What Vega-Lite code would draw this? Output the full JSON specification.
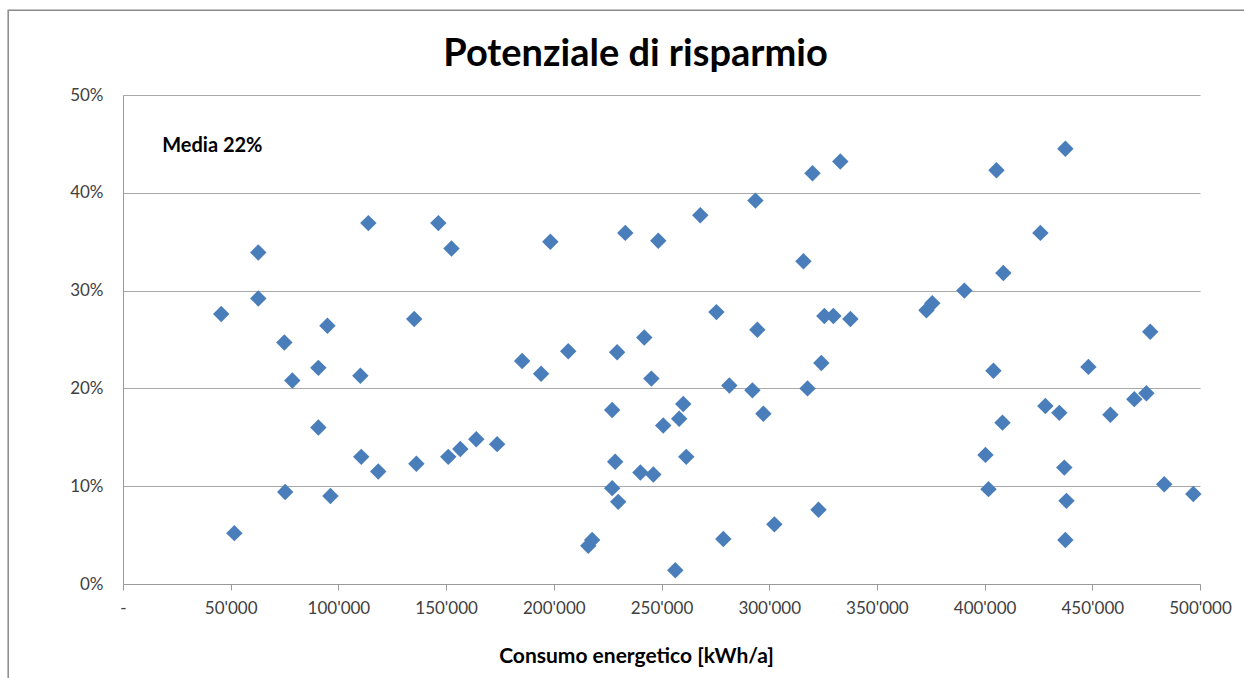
{
  "$schema": "https://vega.github.io/schema/vega-lite/v6.json",
  "width": 1077,
  "height": 489,
  "autosize": "none",
  "padding": {"left": 123, "top": 95, "right": 44, "bottom": 94},
  "background": "white",
  "title": {
    "text": "Potenziale di risparmio",
    "font": "Lato",
    "fontSize": 38,
    "fontWeight": "bold",
    "color": "black",
    "anchor": "middle",
    "offset": -64,
    "dx": -26
  },
  "config": {
    "view": {"stroke": null},
    "axis": {"labelFont": "Lato", "labelFontSize": 17, "labelColor": "#404040", "titleFont": "Lato"}
  },
  "data": {
    "values": [
      {"consumo": 45600, "risparmio": 0.276},
      {"consumo": 51700, "risparmio": 0.052},
      {"consumo": 62800, "risparmio": 0.339},
      {"consumo": 62800, "risparmio": 0.292},
      {"consumo": 74900, "risparmio": 0.247},
      {"consumo": 78600, "risparmio": 0.208},
      {"consumo": 75300, "risparmio": 0.094},
      {"consumo": 90700, "risparmio": 0.221},
      {"consumo": 90700, "risparmio": 0.160},
      {"consumo": 94900, "risparmio": 0.264},
      {"consumo": 96300, "risparmio": 0.090},
      {"consumo": 110200, "risparmio": 0.213},
      {"consumo": 110600, "risparmio": 0.130},
      {"consumo": 113900, "risparmio": 0.369},
      {"consumo": 118500, "risparmio": 0.115},
      {"consumo": 135200, "risparmio": 0.271},
      {"consumo": 136200, "risparmio": 0.123},
      {"consumo": 146400, "risparmio": 0.369},
      {"consumo": 151000, "risparmio": 0.130},
      {"consumo": 152500, "risparmio": 0.343},
      {"consumo": 156600, "risparmio": 0.138},
      {"consumo": 164000, "risparmio": 0.148},
      {"consumo": 173700, "risparmio": 0.143},
      {"consumo": 185300, "risparmio": 0.228},
      {"consumo": 194100, "risparmio": 0.215},
      {"consumo": 198400, "risparmio": 0.350},
      {"consumo": 206700, "risparmio": 0.238},
      {"consumo": 216000, "risparmio": 0.039},
      {"consumo": 217800, "risparmio": 0.045},
      {"consumo": 227100, "risparmio": 0.178},
      {"consumo": 227100, "risparmio": 0.098},
      {"consumo": 228500, "risparmio": 0.125},
      {"consumo": 229400, "risparmio": 0.237},
      {"consumo": 229900, "risparmio": 0.084},
      {"consumo": 233200, "risparmio": 0.359},
      {"consumo": 240200, "risparmio": 0.114},
      {"consumo": 242000, "risparmio": 0.252},
      {"consumo": 245300, "risparmio": 0.210},
      {"consumo": 246200, "risparmio": 0.112},
      {"consumo": 248500, "risparmio": 0.351},
      {"consumo": 250800, "risparmio": 0.162},
      {"consumo": 256400, "risparmio": 0.014},
      {"consumo": 258200, "risparmio": 0.169},
      {"consumo": 260100, "risparmio": 0.184},
      {"consumo": 261500, "risparmio": 0.130},
      {"consumo": 268000, "risparmio": 0.377},
      {"consumo": 275500, "risparmio": 0.278},
      {"consumo": 278700, "risparmio": 0.046},
      {"consumo": 281500, "risparmio": 0.203},
      {"consumo": 292200, "risparmio": 0.198},
      {"consumo": 293600, "risparmio": 0.392},
      {"consumo": 294500, "risparmio": 0.260},
      {"consumo": 297300, "risparmio": 0.174},
      {"consumo": 302400, "risparmio": 0.061},
      {"consumo": 315900, "risparmio": 0.330},
      {"consumo": 317800, "risparmio": 0.200},
      {"consumo": 320100, "risparmio": 0.420},
      {"consumo": 322900, "risparmio": 0.076},
      {"consumo": 324200, "risparmio": 0.226},
      {"consumo": 325600, "risparmio": 0.274},
      {"consumo": 329800, "risparmio": 0.274},
      {"consumo": 333000, "risparmio": 0.432},
      {"consumo": 337700, "risparmio": 0.271},
      {"consumo": 373000, "risparmio": 0.280},
      {"consumo": 375700, "risparmio": 0.287},
      {"consumo": 390600, "risparmio": 0.300},
      {"consumo": 400400, "risparmio": 0.132},
      {"consumo": 401800, "risparmio": 0.097},
      {"consumo": 404100, "risparmio": 0.218},
      {"consumo": 405500, "risparmio": 0.423},
      {"consumo": 408300, "risparmio": 0.165},
      {"consumo": 408700, "risparmio": 0.318},
      {"consumo": 425900, "risparmio": 0.359},
      {"consumo": 428200, "risparmio": 0.182},
      {"consumo": 434700, "risparmio": 0.175},
      {"consumo": 437000, "risparmio": 0.119},
      {"consumo": 438000, "risparmio": 0.085},
      {"consumo": 437500, "risparmio": 0.045},
      {"consumo": 437500, "risparmio": 0.445},
      {"consumo": 448200, "risparmio": 0.222},
      {"consumo": 458400, "risparmio": 0.173},
      {"consumo": 469500, "risparmio": 0.189},
      {"consumo": 475100, "risparmio": 0.195},
      {"consumo": 476900, "risparmio": 0.258},
      {"consumo": 483400, "risparmio": 0.102},
      {"consumo": 496900, "risparmio": 0.092}
    ]
  },
  "layer": [
    {
      "data": {"values": [{"frame": "chart area"}]},
      "mark": {"type": "rect", "fill": null, "stroke": "#8A8A8A", "strokeWidth": 1.5, "clip": false},
      "encoding": {
        "x": {"datum": -53300, "type": "quantitative"},
        "x2": {"datum": 560000},
        "y": {"datum": 0.5866, "type": "quantitative"},
        "y2": {"datum": -0.2}
      }
    },
    {
      "mark": {"type": "point", "shape": "diamond", "filled": true, "size": 270, "color": "#4A7EBB", "opacity": 1},
      "encoding": {
        "x": {
          "field": "consumo",
          "type": "quantitative",
          "scale": {"domain": [0, 500000], "nice": false, "zero": true},
          "axis": {
            "values": [0, 50000, 100000, 150000, 200000, 250000, 300000, 350000, 400000, 450000, 500000],
            "labelExpr": "datum.value == 0 ? '-' : replace(format(datum.value, ','), ',', \"'\")",
            "grid": false,
            "domainColor": "#9A9A9A",
            "tickColor": "#9A9A9A",
            "tickSize": 6,
            "labelPadding": 10,
            "labelFlush": false,
            "title": "Consumo energetico [kWh/a]",
            "titleFontSize": 21,
            "titleFontWeight": "bold",
            "titleColor": "black",
            "titleX": 513,
            "titleY": 78,
            "titleBaseline": "alphabetic",
            "titleAnchor": "middle"
          }
        },
        "y": {
          "field": "risparmio",
          "type": "quantitative",
          "scale": {"domain": [0, 0.5], "nice": false},
          "axis": {
            "values": [0, 0.1, 0.2, 0.3, 0.4, 0.5],
            "format": ".0%",
            "grid": true,
            "gridColor": "#A8A8A8",
            "gridWidth": 1,
            "domainColor": "#9A9A9A",
            "ticks": false,
            "labelPadding": 20,
            "title": null
          }
        }
      }
    },
    {
      "data": {"values": [{"note": "Media 22%"}]},
      "mark": {"type": "text", "font": "Lato", "fontSize": 20, "fontWeight": "bold", "color": "black", "align": "left", "baseline": "alphabetic"},
      "encoding": {
        "text": {"field": "note", "type": "nominal"},
        "x": {"datum": 18200, "type": "quantitative"},
        "y": {"datum": 0.442, "type": "quantitative"}
      }
    }
  ]
}
